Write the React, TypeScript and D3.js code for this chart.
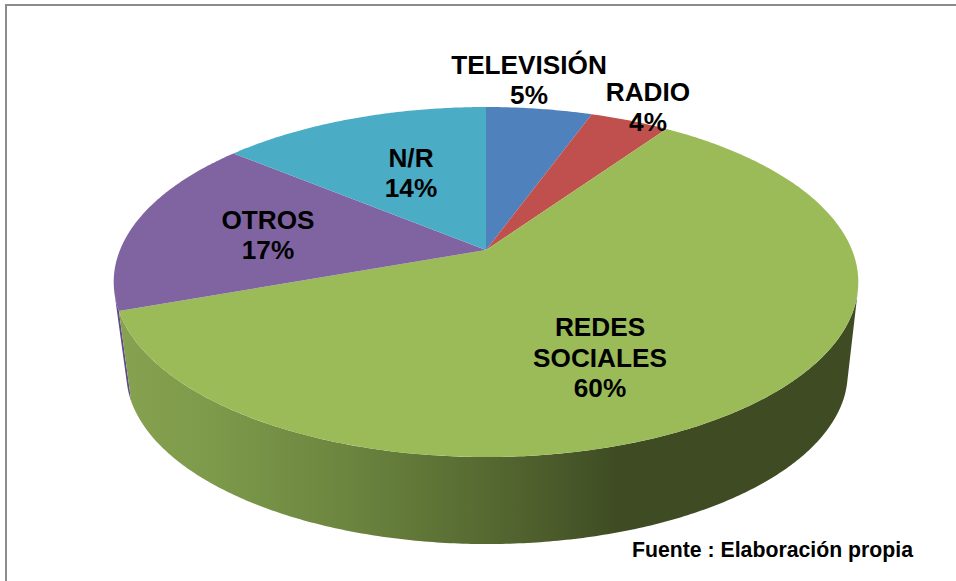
import React from "react";
import * as d3 from "d3";

const categories = ["TELEVISIÓN", "RADIO", "REDES SOCIALES", "OTROS", "N/R"];
const sliceShares = [5.5, 4.1, 59.9, 16.5, 14];
const percentLabels = ["5%", "4%", "60%", "17%", "14%"];
const colors = ["#4f81bd", "#c0504d", "#9bbb59", "#8064a2", "#4bacc6"];
const labelLines = [["TELEVISIÓN", "5%"], ["RADIO", "4%"], ["REDES", "SOCIALES", "60%"], ["OTROS", "17%"], ["N/R", "14%"]];
const labelCenters = [[529, 80], [648, 107], [600, 357.5], [268, 235], [411, 173]];
const wallStops = [[0, "#87a250"], [0.13, "#7c9a4a"], [0.31, "#6c853f"], [0.42, "#5f7537"], [0.557, "#4f602d"], [0.675, "#3f4c23"], [1, "#3f4c23"]];

const W = 956, H = 581;
const C = -0.183, A = 123.4, APEX_Y = 250, CX = 486, R = 366;

function topPoint(theta: number): [number, number] {
  const u = Math.sin(theta), v = -Math.cos(theta);
  const w = 1 + C * v;
  return [CX + (R * u) / w, (A * v + APEX_Y) / w];
}
function lowPoint(theta: number): [number, number] {
  const [x, y] = topPoint(theta);
  return [487 + (x - CX) * 0.969, 373 + (y - 282) * (171 / 175)];
}
function samples(a: number, b: number): number[] {
  const n = Math.max(2, Math.ceil(Math.abs(b - a) / 0.01));
  return d3.range(n + 1).map((i) => a + ((b - a) * i) / n);
}
// angle on a rim where the side silhouette touches it
function tangentAngle(rim: (t: number) => [number, number], nx: number, ny: number): number {
  const ts = samples(0, Math.PI * 2);
  return ts[d3.greatestIndex(ts, (t) => { const [x, y] = rim(t); return nx * x + ny * y; })];
}
const line = d3.line();

// side wall between a top-rim span and a bottom-rim span, no fold at the silhouette
function wall(topA: number, topB: number, lowA: number, lowB: number): string {
  const top = samples(topA, topB).map(topPoint);
  const low = samples(lowA, lowB).map(lowPoint).reverse();
  return line([...top, ...low])! + "Z";
}

export default function App() {
  const arcs = d3.pie<number>().sort(null)(sliceShares);
  const faces = arcs.map((d) => {
    const pts = samples(d.startAngle, d.endAngle).map(topPoint);
    return line([[CX, APEX_Y], ...pts])! + "Z";
  });
  const green = arcs[2];
  const rightTop = tangentAngle(topPoint, 71, 9);
  const rightLow = tangentAngle(lowPoint, 71, 9);
  const leftTop = tangentAngle(topPoint, -90, 14);
  const leftLow = tangentAngle(lowPoint, -90, 14);
  return (
    <svg width={W} height={H} style={{ position: "absolute", left: 0, top: 0 }}>
      <defs>
        <linearGradient id="wall" gradientUnits="userSpaceOnUse" x1={118} x2={858} y1={0} y2={0}>
          {wallStops.map(([o, c]) => (
            <stop key={String(o)} offset={o as number} stopColor={c as string} />
          ))}
        </linearGradient>
      </defs>
      <rect width={W} height={H} fill="#fff" />
      <path d="M6,581V5H956" fill="none" stroke="#8c8c8c" strokeWidth={2} />
      <path d={wall(green.endAngle, leftTop, green.endAngle, leftLow)} fill="#5f4a87" />
      <path d={wall(rightTop, green.endAngle, rightLow, green.endAngle)} fill="url(#wall)" />
      {faces.map((d, i) => (
        <path key={categories[i]} d={d} fill={colors[i]} />
      ))}
      <g fontFamily="'Liberation Sans', Arial, sans-serif" fontWeight={700} fontSize={26.2} textAnchor="middle" fill="#000">
        {labelLines.map((ls, i) => (
          <text key={categories[i]} data-pct={percentLabels[i]}>
            {ls.map((t, j) => (
              <tspan key={j} x={labelCenters[i][0]} y={labelCenters[i][1] - ((ls.length - 1) * 30.5) / 2 + j * 30.5 + 9}>
                {t}
              </tspan>
            ))}
          </text>
        ))}
      </g>
      <text x={632} y={557} fontFamily="'Liberation Sans', Arial, sans-serif" fontWeight={700} fontSize={21.25} fill="#000">
        Fuente : Elaboración propia
      </text>
    </svg>
  );
}
